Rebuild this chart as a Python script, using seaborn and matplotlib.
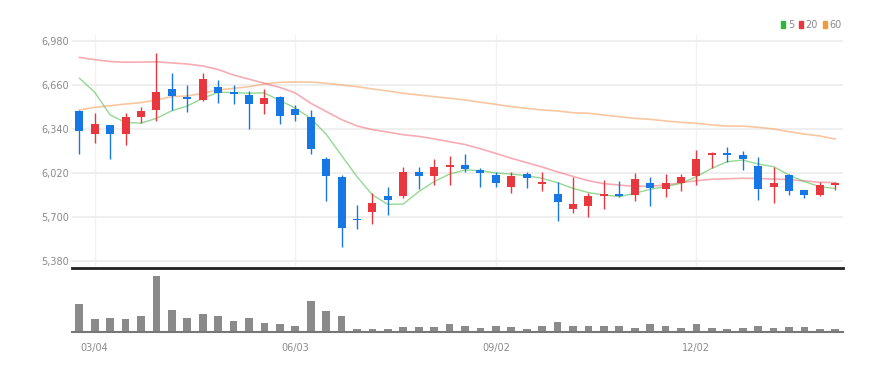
import numpy as np
import pandas as pd
import matplotlib
matplotlib.use("Agg")
import matplotlib.pyplot as plt
import seaborn as sns
from matplotlib.patches import Patch

# weekly candles (50 weeks)
opens = [6471, 6299, 6364, 6299, 6427, 6476, 6631, 6570, 6551, 6645,
         6604, 6587, 6522, 6568, 6486, 6422, 6117, 5991, 5686, 5736,
         5853, 5850, 6022, 5998, 6061, 6076, 6042, 6006, 5918, 6008,
         5935, 5865, 5758, 5775, 5850, 5868, 5860, 5943, 5899, 5947,
         5996, 6149, 6166, 6151, 6071, 5913, 6003, 5892, 5855, 5930]
highs = [6475, 6452, 6370, 6456, 6495, 6893, 6742, 6658, 6747, 6694,
         6658, 6614, 6626, 6578, 6510, 6476, 6136, 6001, 5783, 5875,
         5918, 6064, 6064, 6117, 6144, 6153, 6056, 6027, 6027, 6027,
         6022, 5952, 5986, 5870, 5964, 5960, 6015, 5991, 6008, 6010,
         6185, 6170, 6204, 6180, 6136, 6059, 6010, 5894, 5952, 5952]
lows = [6156, 6238, 6117, 6224, 6379, 6398, 6476, 6464, 6539, 6524,
        6520, 6335, 6444, 6372, 6396, 6156, 5816, 5477, 5613, 5647,
        5712, 5833, 5899, 5930, 5928, 6027, 5913, 5913, 5870, 5906,
        5884, 5671, 5729, 5700, 5753, 5845, 5812, 5780, 5846, 5884,
        5928, 6056, 6100, 6040, 5819, 5802, 5855, 5836, 5850, 5894]
closes = [6326, 6374, 6299, 6423, 6471, 6609, 6580, 6558, 6701, 6602,
          6590, 6522, 6565, 6430, 6442, 6195, 5996, 5615, 5676, 5797,
          5824, 6027, 5998, 6064, 6076, 6044, 6015, 5943, 5996, 5981,
          5952, 5804, 5795, 5853, 5865, 5852, 5974, 5906, 5943, 5991,
          6122, 6166, 6151, 6119, 5899, 5943, 5884, 5858, 5930, 5945]
volumes = [85, 39, 43, 39, 47, 167, 65, 43, 53, 47,
           32, 43, 28, 24, 19, 93, 63, 49, 9, 9,
           9, 14, 14, 14, 24, 18, 13, 19, 16, 8,
           17, 29, 17, 17, 17, 17, 11, 24, 18, 13,
           24, 13, 8, 12, 18, 13, 16, 16, 8, 8]

# moving averages as drawn (they use weeks before the visible range)
ma5 = [6708, 6605, 6440, 6385, 6380, 6415, 6470, 6505, 6560, 6605,
       6602, 6598, 6600, 6545, 6490, 6415, 6300, 6145, 5991, 5858,
       5790, 5792, 5882, 5955, 6010, 6040, 6035, 6018, 6010, 5998,
       5979, 5947, 5906, 5875, 5858, 5846, 5870, 5899, 5918, 5943,
       5991, 6052, 6100, 6112, 6083, 6064, 6003, 5955, 5918, 5906]
ma20 = [6858, 6842, 6828, 6823, 6824, 6826, 6818, 6810, 6796, 6770,
        6730, 6700, 6670, 6640, 6600, 6525, 6465, 6406, 6360, 6333,
        6315, 6296, 6284, 6266, 6245, 6225, 6194, 6160, 6125, 6093,
        6061, 6026, 5993, 5962, 5940, 5930, 5920, 5922, 5930, 5947,
        5962, 5972, 5976, 5979, 5978, 5973, 5970, 5960, 5950, 5948]
ma60 = [6476, 6495, 6507, 6519, 6529, 6549, 6573, 6578, 6597, 6621,
        6633, 6645, 6665, 6677, 6679, 6679, 6670, 6658, 6645, 6629,
        6614, 6597, 6585, 6573, 6561, 6549, 6532, 6517, 6500, 6488,
        6476, 6469, 6456, 6452, 6439, 6427, 6415, 6408, 6396, 6386,
        6379, 6367, 6359, 6359, 6350, 6338, 6318, 6301, 6287, 6265]

tick_pos = [1, 14, 27, 40]
tick_labels = ["03/04", "06/03", "09/02", "12/02"]
price_ticks = [5380, 5700, 6020, 6340, 6660, 6980]

UP = "#e8373e"
DOWN = "#1677e5"
TXT = "#8a8a8a"

df = pd.DataFrame({"open": opens, "high": highs, "low": lows,
                   "close": closes, "vol": volumes,
                   "ma5": ma5, "ma20": ma20, "ma60": ma60})
df["i"] = np.arange(len(df))
df["up"] = df["close"] >= df["open"]
df["color"] = np.where(df["up"], UP, DOWN)

sns.set_style("white")
plt.rcParams["font.family"] = ["Liberation Sans Narrow", "DejaVu Sans"]

fig = plt.figure(figsize=(8.94, 3.73), dpi=100)
ax = fig.add_axes([72 / 894, 1 - 268 / 373, 771 / 894, 233 / 373])
axv = fig.add_axes([72 / 894, 1 - 332 / 373, 771 / 894, 60 / 373])

# candles
ax.vlines(df["i"], df["low"], df["high"], colors=df["color"], lw=1, zorder=3)
body = (df["close"] - df["open"]).abs().clip(lower=8)
bottom = df[["open", "close"]].min(axis=1)
ax.bar(df["i"], body, bottom=bottom, width=0.52, color=df["color"],
       linewidth=0, zorder=4)

# moving averages
sns.lineplot(data=df, x="i", y="ma60", ax=ax, color="#f4a261", lw=1.2, alpha=0.6, zorder=2)
sns.lineplot(data=df, x="i", y="ma20", ax=ax, color="#ee5a68", lw=1.2, alpha=0.5, zorder=2)
sns.lineplot(data=df, x="i", y="ma5", ax=ax, color="#4cc04c", lw=1.0, alpha=0.6, zorder=2)

xlim = (-0.47, 49.5)
ax.set_xlim(xlim)
ax.set_ylim(5327, 7021)
ax.set_yticks(price_ticks)
ax.set_yticklabels([f"{v:,}" for v in price_ticks], fontsize=7, color=TXT)
ax.set_xticks(tick_pos)
ax.set_xticklabels([])
ax.tick_params(axis="both", length=0, pad=2)
ax.grid(axis="y", color="#ececec", lw=1.2)
ax.grid(axis="x", color="#f2f2f2", lw=1)
ax.set_xlabel("")
ax.set_ylabel("")
for s in ["top", "right", "left"]:
    ax.spines[s].set_visible(False)
ax.spines["bottom"].set_color("#222222")
ax.spines["bottom"].set_linewidth(2)

# legend
handles = [Patch(color="#2cb83c", label="5"),
           Patch(color="#e8373e", label="20"),
           Patch(color="#f39a3c", label="60")]
ax.legend(handles=handles, loc="center right", ncol=3, frameon=False,
          bbox_to_anchor=(842 / 894, 1 - 25 / 373), bbox_transform=fig.transFigure,
          borderaxespad=0, borderpad=0, handlelength=0.4, handleheight=0.8,
          handletextpad=0.3, columnspacing=0.5, fontsize=7, labelcolor=TXT)

# volume
sns.barplot(data=df, x="i", y="vol", native_scale=True, color="#8a8a8a",
            width=0.5, saturation=1, linewidth=0, ax=axv)
axv.set_xlim(xlim)
axv.set_ylim(0, 179)
axv.set_yticks([])
axv.set_xticks(tick_pos)
axv.set_xticklabels(tick_labels, fontsize=7, color=TXT)
axv.tick_params(axis="x", length=3, width=1, color="#555555", pad=5, direction="out")
axv.set_xlabel("")
axv.set_ylabel("")
for s in ["top", "right", "left"]:
    axv.spines[s].set_visible(False)
axv.spines["bottom"].set_color("#777777")
axv.spines["bottom"].set_linewidth(1.5)

fig.savefig("out.png", dpi=100)
